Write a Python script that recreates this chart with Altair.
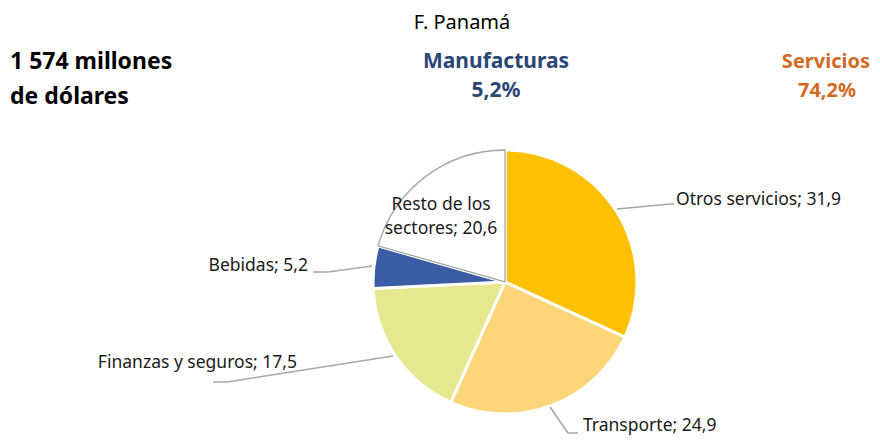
import altair as alt
import pandas as pd

# Data
sectors = ["Otros servicios", "Transporte", "Finanzas y seguros", "Bebidas", "Resto de los sectores"]
shares = [31.9, 24.9, 17.5, 5.2, 20.6]
colors = ["#FFC000", "#FFD57A", "#E6E78F", "#3A5DA5", "#FFFFFF"]
label_lines = [["Otros servicios; 31,9"], ["Transporte; 24,9"], ["Finanzas y seguros; 17,5"],
               ["Bebidas; 5,2"], ["Resto  de los", "sectores; 20,6"]]

W, H = 864, 428
CX, CY, R = 497, 274, 132
FONT = "Noto Sans"

df = pd.DataFrame({"name": sectors, "value": shares, "idx": list(range(len(sectors)))})

base = alt.Chart(df)
pie = base.mark_arc(radius=R, stroke="white", strokeWidth=3).encode(
    theta=alt.Theta("value:Q", stack=True),
    order=alt.Order("idx:Q"),
    color=alt.Color("name:N", scale=alt.Scale(domain=sectors, range=colors), legend=None),
    x=alt.value(CX), y=alt.value(CY),
)
resto_border = base.mark_arc(radius=R, fillOpacity=0, stroke="#A6A6A6", strokeWidth=1.3).encode(
    theta=alt.Theta("value:Q", stack=True),
    order=alt.Order("idx:Q"),
    strokeOpacity=alt.condition(alt.datum.name == "Resto de los sectores", alt.value(1), alt.value(0)),
    x=alt.value(CX), y=alt.value(CY),
)

# label annotation positions (chart pixels)
lab_pos = [(668, 192, "left"), (575, 418, "left"), (289, 355, "right"), (300, 258, "right"), (433, 197, "center")]
labels = []
for (x, y, a), lines in zip(lab_pos, label_lines):
    labels.append(alt.Chart(pd.DataFrame({"t": [lines]})).mark_text(
        font=FONT, fontSize=17.5, color="#1A1A1A", align=a, baseline="middle", lineHeight=24
    ).encode(text="t:N", x=alt.value(x), y=alt.value(y)))

leaders = pd.DataFrame({
    "g": [0, 0, 0, 1, 1, 1, 2, 2, 2, 3, 3, 3],
    "k": [0, 1, 2] * 4,
    "px": [609, 662, 666, 542, 560, 570, 385, 219, 205, 364, 320, 305],
    "py": [201, 196, 196, 399, 425, 425, 348, 374, 374, 258, 264, 264],
})
lead = alt.Chart(leaders).mark_line(color="#A6A6A6", strokeWidth=1.5).encode(
    x=alt.X("px:Q", scale=None), y=alt.Y("py:Q", scale=None), detail="g:N", order="k:Q"
)

def txt(s, x, y, size, color="#000000", weight="normal", align="center"):
    return alt.Chart(pd.DataFrame({"t": [s]})).mark_text(
        font=FONT, fontSize=size, fontWeight=weight, color=color, align=align, baseline="middle"
    ).encode(text="t:N", x=alt.value(x), y=alt.value(y))

texts = [
    txt("F. Panamá", 454, 15, 20),
    txt("1 574 millones", 2, 54, 23, weight="bold", align="left"),
    txt("de dólares", 2, 89, 23, weight="bold", align="left"),
    txt("Manufacturas", 488, 54, 21, color="#2B4675", weight="bold"),
    txt("5,2%", 488, 83, 21, color="#2B4675", weight="bold"),
    txt("Servicios", 862, 54, 20, color="#D2691E", weight="bold", align="right"),
    txt("74,2%", 819, 83, 20, color="#D2691E", weight="bold"),
]

chart = alt.layer(pie, resto_border, lead, *labels, *texts).properties(
    width=W, height=H, autosize=alt.AutoSizeParams(type="none"), padding=0, background="white"
).configure_view(stroke="transparent", strokeWidth=0)

chart.save("out.html", embed_options={"renderer": "svg", "actions": False})
